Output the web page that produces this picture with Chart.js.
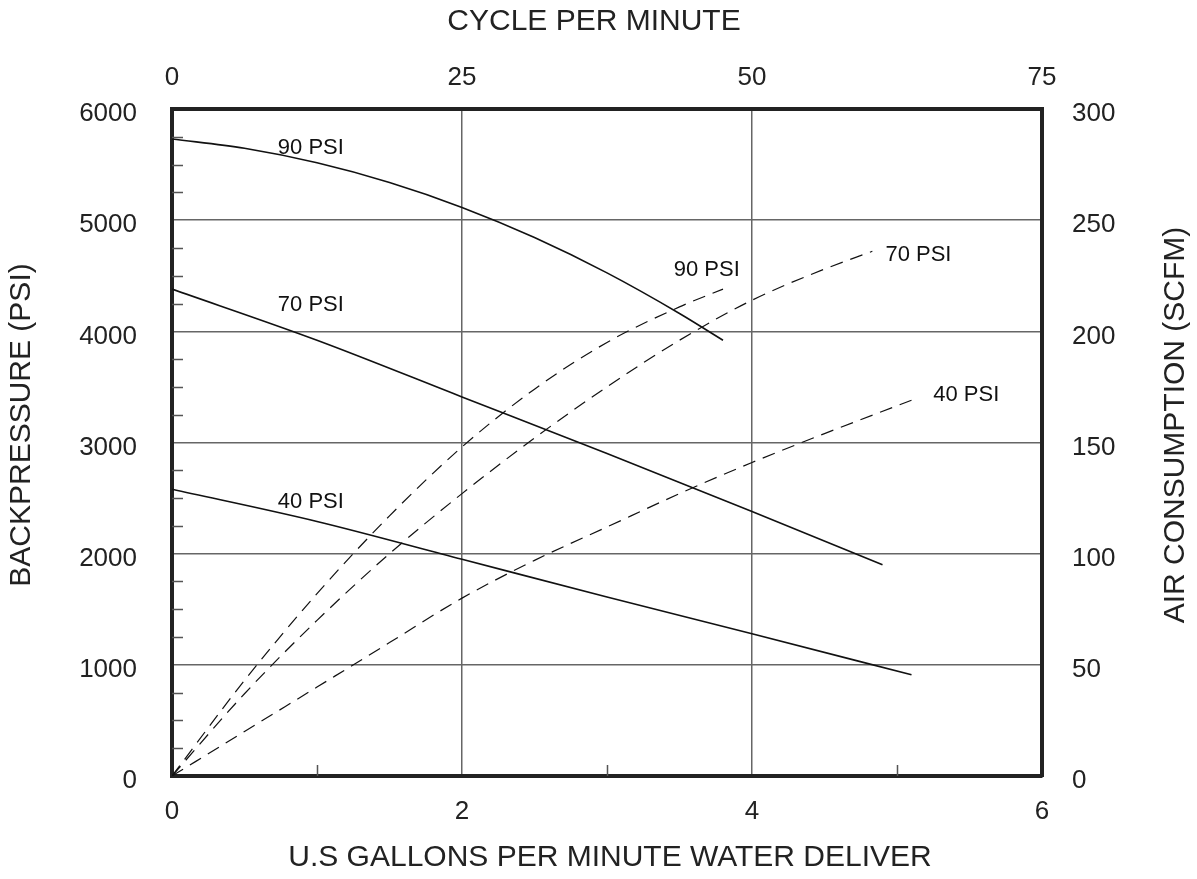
<!DOCTYPE html>
<html>
<head>
<meta charset="utf-8">
<script src="https://cdn.jsdelivr.net/npm/chart.js@4/dist/chart.umd.min.js"></script>
<style>
  body { margin: 0; background: #fff; }
  canvas { display: block; }
</style>
</head>
<body>
<canvas id="pump-chart" width="1197" height="879"></canvas>
<script>
// backpressure curves (solid, left axis)
var flow90 = [0, 0.5, 1, 1.5, 2, 2.5, 3, 3.5, 3.8];
var psi90 = [5730, 5647, 5516, 5339, 5115, 4844, 4526, 4161, 3920];
var flow70 = [0, 1, 2, 3, 4, 4.9];
var psi70 = [4380, 3920, 3410, 2900, 2380, 1900];
var flow40 = [0, 1, 2, 3, 4, 5.1];
var psi40 = [2580, 2290, 1950, 1610, 1280, 910];

// air consumption curves (dashed, right axis)
var airFlow90 = [0, 0.5, 1, 1.5, 2, 2.5, 3, 3.5, 3.8];
var scfm90 = [0, 43, 82, 117, 148, 174, 195, 211, 219];
var airFlow70 = [0, 0.5, 1, 1.5, 2, 2.5, 3, 3.5, 4, 4.5, 4.83];
var scfm70 = [0, 37, 70, 100, 127, 152, 175, 196, 214, 228, 236];
var airFlow40 = [0, 0.5, 1, 1.5, 2, 2.5, 3, 3.5, 4, 4.5, 5.1];
var scfm40 = [0, 20, 40, 60, 80, 97, 112, 127, 141, 154, 169];

// ticks
var gpmTicks = [0, 2, 4, 6];
var gpmMinor = [1, 3, 5];
var cycleTicks = [0, 25, 50, 75];
var psiTicks = [0, 1000, 2000, 3000, 4000, 5000, 6000];
var psiMinor = [250, 500, 750, 1250, 1500, 1750, 2250, 2500, 2750, 3250, 3500, 3750, 4250, 4500, 4750, 5250, 5500, 5750];
var scfmTicks = [0, 50, 100, 150, 200, 250, 300];

// curve labels (gpm, psi)
var labelText = ['90 PSI', '70 PSI', '40 PSI', '90 PSI', '70 PSI', '40 PSI'];
var labelGpm = [0.73, 0.73, 0.73, 3.46, 4.92, 5.25];
var labelPsi = [5650, 4236, 2464, 4550, 4685, 3426];

var fontFam = '"Liberation Sans", Arial, sans-serif';
var ink = '#222';

function punti(xs, ys) {
    var out = [];
    for (var i = 0; i < xs.length; i++) {
        out.push({x: xs[i], y: ys[i]});
    }
    return out;
}

function linea(xs, ys, asse, tratteggio) {
    return {
        data: punti(xs, ys),
        yAxisID: asse,
        showLine: true,
        borderColor: '#111',
        borderWidth: tratteggio ? 1.2 : 1.6,
        borderDash: tratteggio ? [13, 8] : [],
        pointRadius: 0,
        cubicInterpolationMode: 'monotone',
        fill: false
    };
}

function fisso(arr) {
    return function (s) {
        s.ticks = arr.map(function (v) { return {value: v}; });
    };
}

function semplice(v) {
    return String(v);
}

var extras = {
    id: 'extras',
    afterDatasetsDraw: function (chart) {
        var ctx = chart.ctx;
        var a = chart.chartArea;
        var x = chart.scales.x;
        var y = chart.scales.y;
        ctx.save();
        // minor ticks inside the box
        ctx.strokeStyle = '#555';
        ctx.lineWidth = 1.5;
        ctx.beginPath();
        psiMinor.forEach(function (v) {
            var py = Math.round(y.getPixelForValue(v)) + 0.5;
            ctx.moveTo(a.left, py);
            ctx.lineTo(a.left + 11, py);
        });
        gpmMinor.forEach(function (v) {
            var px = Math.round(x.getPixelForValue(v)) + 0.5;
            ctx.moveTo(px, a.bottom);
            ctx.lineTo(px, a.bottom - 11);
        });
        ctx.stroke();

        // curve labels
        ctx.fillStyle = '#111';
        ctx.font = '22px ' + fontFam;
        ctx.textAlign = 'left';
        ctx.textBaseline = 'middle';
        for (var i = 0; i < labelText.length; i++) {
            ctx.fillText(labelText[i], x.getPixelForValue(labelGpm[i]), y.getPixelForValue(labelPsi[i]));
        }

        // axis titles
        ctx.fillStyle = ink;
        ctx.font = '30px ' + fontFam;
        ctx.textAlign = 'center';
        ctx.fillText('CYCLE PER MINUTE', 594, 22);
        ctx.fillText('U.S GALLONS PER MINUTE WATER DELIVER', 610, 858);
        ctx.save();
        ctx.translate(22, 425);
        ctx.rotate(-Math.PI / 2);
        ctx.fillText('BACKPRESSURE (PSI)', 0, 0);
        ctx.restore();
        ctx.save();
        ctx.translate(1176, 425);
        ctx.rotate(-Math.PI / 2);
        ctx.fillText('AIR CONSUMPTION (SCFM)', 0, 0);
        ctx.restore();
        ctx.restore();
    }
};

var tickFont = {family: fontFam, size: 26};
var bordo = {display: true, width: 4, color: ink};

var ctx = document.getElementById('pump-chart');
var grafico = new Chart(ctx, {
    type: 'scatter',
    data: {
        datasets: [
            linea(flow90, psi90, 'y', false),
            linea(flow70, psi70, 'y', false),
            linea(flow40, psi40, 'y', false),
            linea(airFlow90, scfm90, 'y2', true),
            linea(airFlow70, scfm70, 'y2', true),
            linea(airFlow40, scfm40, 'y2', true)
        ]
    },
    options: {
        responsive: false,
        animation: false,
        layout: {padding: 0},
        plugins: {legend: {display: false}, tooltip: {enabled: false}},
        scales: {
            x: {
                type: 'linear', position: 'bottom', min: 0, max: 6,
                afterBuildTicks: fisso(gpmTicks),
                afterFit: function (s) { s.height = 103; },
                grid: {color: '#666', lineWidth: 1.5, drawTicks: false},
                border: bordo,
                ticks: {font: tickFont, color: ink, padding: 20, callback: semplice}
            },
            x2: {
                type: 'linear', position: 'top', min: 0, max: 75,
                afterBuildTicks: fisso(cycleTicks),
                afterFit: function (s) { s.height = 109; },
                grid: {display: false, drawTicks: false},
                border: bordo,
                ticks: {font: tickFont, color: ink, padding: 16, callback: semplice}
            },
            y: {
                type: 'linear', position: 'left', min: 0, max: 6000,
                afterBuildTicks: fisso(psiTicks),
                afterFit: function (s) { s.width = 172; },
                grid: {color: '#666', lineWidth: 1.5, drawTicks: false},
                border: bordo,
                ticks: {font: tickFont, color: ink, padding: 35, labelOffset: 5, callback: semplice}
            },
            y2: {
                type: 'linear', position: 'right', min: 0, max: 300,
                afterBuildTicks: fisso(scfmTicks),
                afterFit: function (s) { s.width = 155; },
                grid: {display: false, drawTicks: false},
                border: bordo,
                ticks: {font: tickFont, color: ink, padding: 30, labelOffset: 5, callback: semplice}
            }
        }
    },
    plugins: [extras]
});
</script>
</body>
</html>
